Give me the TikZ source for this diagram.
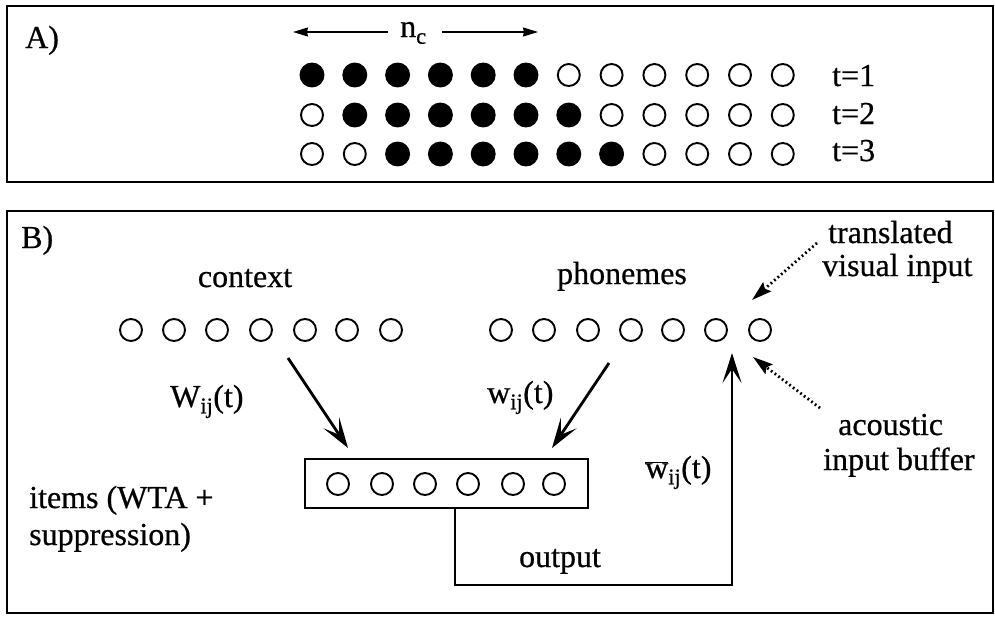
\documentclass[tikz,border=0pt]{standalone}
\usepackage{fontspec}
\setmainfont{Liberation Serif}[FakeBold=0.6]
\usetikzlibrary{arrows.meta}
\begin{document}
\begin{tikzpicture}[x=1pt,y=-1pt,
  lbl/.style={font=\fontsize{32}{36}\selectfont, inner sep=0pt},
  unit/.style={circle, draw, line width=1.9pt, minimum size=22pt, inner sep=0pt},
  unitfill/.style={unit, fill=black, minimum size=23pt},
  frame/.style={draw, line width=2pt},
  bigarrow/.style={line width=2.8pt, -{Stealth[length=30pt,width=19pt,inset=14pt]}},
  dotarrow/.style={line width=2.8pt, dash pattern=on 1.8pt off 2.8pt, -{Stealth[length=20pt,width=12pt,inset=3pt]}},
  ncarrow/.style={line width=1.6pt, -{Stealth[length=15pt,width=9pt,inset=1pt]}}
]
\useasboundingbox (0,0) rectangle (995,616);

% ---------------- Panel A ----------------
\draw[frame] (7,6) rectangle (993,182);
\node[lbl, anchor=base west] (Alab) at (25,48) {A)};
\node[lbl, anchor=base west] (nc) at (400,37) {n\raisebox{-3pt}{\textsubscript{c}}};
\coordinate (ncL1) at (388,32);
\coordinate (ncL2) at (293,32);
\coordinate (ncR1) at (442,32);
\coordinate (ncR2) at (538,32);
\draw[ncarrow] (ncL1) -- (ncL2);
\draw[ncarrow] (ncR1) -- (ncR2);

\foreach \r/\y/\tb in {1/75/86,2/115/124,3/154/161}{
  \foreach \c in {1,...,12}{
    \ifnum\c<\r \def\st{unit}\else
      \ifnum\c>\numexpr\r+5\relax \def\st{unit}\else \def\st{unitfill}\fi
    \fi
    \node[\st] (a\r-\c) at ({312+(\c-1)*42.8},\y) {};
  }
  \node[lbl, anchor=base west] (t\r) at (832,\tb) {t=\r};
}

% ---------------- Panel B ----------------
\draw[frame] (7,211) rectangle (993,613);
\node[lbl, anchor=base west] (Blab) at (21,248) {B)};

\node[lbl, anchor=base] (ctxlbl) at (245,287) {context};
\foreach \i/\x in {1/131,2/174,3/217,4/261,5/305,6/347,7/391}
  \node[unit] (c\i) at (\x,330) {};

\node[lbl, anchor=base] (phlbl) at (622,284) {phonemes};
\foreach \i/\x in {1/501,2/544,3/588,4/631,5/673,6/716,7/760}
  \node[unit] (p\i) at (\x,330) {};

\node[draw, line width=2pt, minimum width=283pt, minimum height=49pt, inner sep=0pt] (items) at (446.5,483.5) {};
\foreach \i/\x in {1/338,2/382,3/425,4/468,5/513,6/554}
  \node[unit] (it\i) at (\x,484) {};

\node[lbl, anchor=base west] (itl1) at (29,508) {items (WTA +};
\node[lbl, anchor=base west] (itl2) at (29,545) {suppression)};

\coordinate (cA) at (288,358);
\coordinate (cB) at (348,448);
\draw[bigarrow] (cA) -- (cB);
\node[lbl, anchor=base west] (Wlbl) at (170,407) {W\textsubscript{ij}(t)};

\coordinate (pA) at (609,363);
\coordinate (pB) at (552,448);
\draw[bigarrow] (pA) -- (pB);
\node[lbl, anchor=base west] (wlbl) at (487,403) {w\textsubscript{ij}(t)};

\coordinate (obot) at (455,585);
\coordinate (oright) at (732,585);
\coordinate (otip) at (732,353);
\draw[bigarrow] (items.south -| obot) -- (obot) -- (oright) -- (otip);
\node[lbl, anchor=base] (outlbl) at (560,567) {output};
\node[lbl, anchor=base west] (wbarlbl) at (645,478) {$\overline{\mbox{w}}$\textsubscript{ij}(t)};

\coordinate (tvA) at (817,243);
\coordinate (tvB) at (752,300);
\draw[dotarrow] (tvA) -- (tvB);
\node[lbl, anchor=base west] (tv1) at (828,243) {translated};
\node[lbl, anchor=base west] (tv2) at (822,276) {visual input};

\coordinate (acA) at (820,408);
\coordinate (acB) at (753,357);
\draw[dotarrow] (acA) -- (acB);
\node[lbl, anchor=base west] (ac1) at (838,435) {acoustic};
\node[lbl, anchor=base west] (ac2) at (823,470) {input buffer};
\end{tikzpicture}
\end{document}
